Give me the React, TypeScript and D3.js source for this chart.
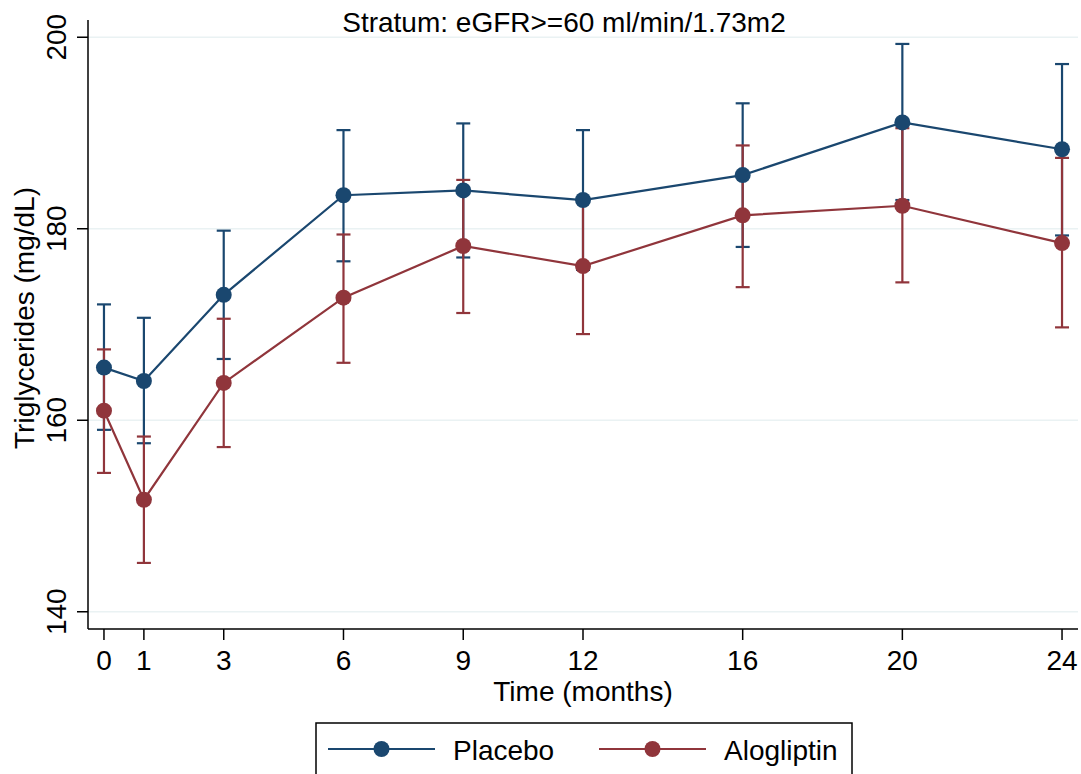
import React from "react";
import * as d3 from "d3";

const months = [0, 1, 3, 6, 9, 12, 16, 20, 24];
const placeboMean = [165.5, 164.1, 173.1, 183.5, 184.0, 183.0, 185.6, 191.1, 188.3];
const placeboLow = [159.0, 157.6, 166.4, 176.6, 177.0, 175.7, 178.1, 183.0, 179.3];
const placeboHigh = [172.1, 170.7, 179.8, 190.3, 191.0, 190.3, 193.1, 199.3, 197.2];
const alogMean = [161.0, 151.7, 163.9, 172.8, 178.2, 176.1, 181.4, 182.4, 178.5];
const alogLow = [154.5, 145.1, 157.2, 166.0, 171.2, 169.0, 173.9, 174.4, 169.7];
const alogHigh = [167.4, 158.3, 170.6, 179.4, 185.1, 183.2, 188.7, 190.5, 187.4];
const yTicks = [140, 160, 180, 200];
const seriesNames = ["Placebo", "Alogliptin"];
const titleText = "Stratum: eGFR>=60 ml/min/1.73m2";

const BLUE = "#1a476f";
const RED = "#90353b";
const FONT = "'Liberation Sans', Arial, sans-serif";
const FS = 28;

export default function App() {
  const W = 1081, H = 774;
  const left = 88, right = 1078, top = 20, bottom = 629;
  const x = d3.scaleLinear().domain([-0.4, 24.4]).range([left, right]);
  const y = d3.scaleLinear().domain([138.2, 201.8]).range([bottom, top]);
  const line = d3.line<number>().x((_, i) => x(months[i])).y((d) => y(d));

  const series = [
    { name: seriesNames[0], mean: placeboMean, lo: placeboLow, hi: placeboHigh, color: BLUE },
    { name: seriesNames[1], mean: alogMean, lo: alogLow, hi: alogHigh, color: RED },
  ];
  const cap = 7;
  const legendX = [328, 599];

  return (
    <svg width={W} height={H} style={{ position: "absolute", left: 0, top: 0, background: "#fff" }} fontFamily={FONT}>
      <rect x={0} y={0} width={W} height={H} fill="#fff" />
      {yTicks.map((t) => (
        <line key={"g" + t} x1={left} x2={right} y1={y(t)} y2={y(t)} stroke="#eaf2f3" strokeWidth={1.5} />
      ))}
      {series.map((s) => (
        <g key={"eb" + s.name} stroke={s.color} strokeWidth={2.2}>
          {months.map((m, i) => (
            <g key={m}>
              <line x1={x(m)} x2={x(m)} y1={y(s.lo[i])} y2={y(s.hi[i])} />
              <line x1={x(m) - cap} x2={x(m) + cap} y1={y(s.lo[i])} y2={y(s.lo[i])} />
              <line x1={x(m) - cap} x2={x(m) + cap} y1={y(s.hi[i])} y2={y(s.hi[i])} />
            </g>
          ))}
        </g>
      ))}
      {series.map((s) => (
        <g key={"ln" + s.name}>
          <path d={line(s.mean) || ""} fill="none" stroke={s.color} strokeWidth={2.2} />
          {months.map((m, i) => (
            <circle key={m} cx={x(m)} cy={y(s.mean[i])} r={8} fill={s.color} />
          ))}
        </g>
      ))}
      <line x1={left} x2={left} y1={top} y2={bottom} stroke="#000" strokeWidth={1.5} />
      <line x1={left} x2={right} y1={bottom} y2={bottom} stroke="#000" strokeWidth={1.5} />
      {yTicks.map((t) => (
        <g key={"yt" + t}>
          <line x1={left - 11} x2={left} y1={y(t)} y2={y(t)} stroke="#000" strokeWidth={1.5} />
          <text
            transform={`translate(${66},${y(t)}) rotate(-90)`}
            textAnchor="middle"
            fontSize={FS}
            fill="#000"
          >
            {t}
          </text>
        </g>
      ))}
      {months.map((m) => (
        <g key={"xt" + m}>
          <line x1={x(m)} x2={x(m)} y1={bottom} y2={bottom + 11} stroke="#000" strokeWidth={1.5} />
          <text x={x(m)} y={670} textAnchor="middle" fontSize={FS} fill="#000">
            {m}
          </text>
        </g>
      ))}
      <text x={583} y={701} textAnchor="middle" fontSize={FS} fill="#000">
        Time (months)
      </text>
      <text
        transform={`translate(34,318) rotate(-90)`}
        textAnchor="middle"
        fontSize={FS}
        fill="#000"
      >
        Triglycerides (mg/dL)
      </text>
      <text x={564} y={32} textAnchor="middle" fontSize={FS} fill="#000">
        {titleText}
      </text>
      <rect x={316} y={723} width={536} height={70} fill="#fff" stroke="#000" strokeWidth={1.5} />
      {series.map((s, i) => {
        const lx = legendX[i];
        return (
          <g key={"lg" + s.name}>
            <line x1={lx} x2={lx + 107} y1={749} y2={749} stroke={s.color} strokeWidth={2.2} />
            <circle cx={lx + 53.5} cy={749} r={8} fill={s.color} />
            <text x={lx + 125} y={760} fontSize={FS} fill="#000">
              {s.name}
            </text>
          </g>
        );
      })}
    </svg>
  );
}
